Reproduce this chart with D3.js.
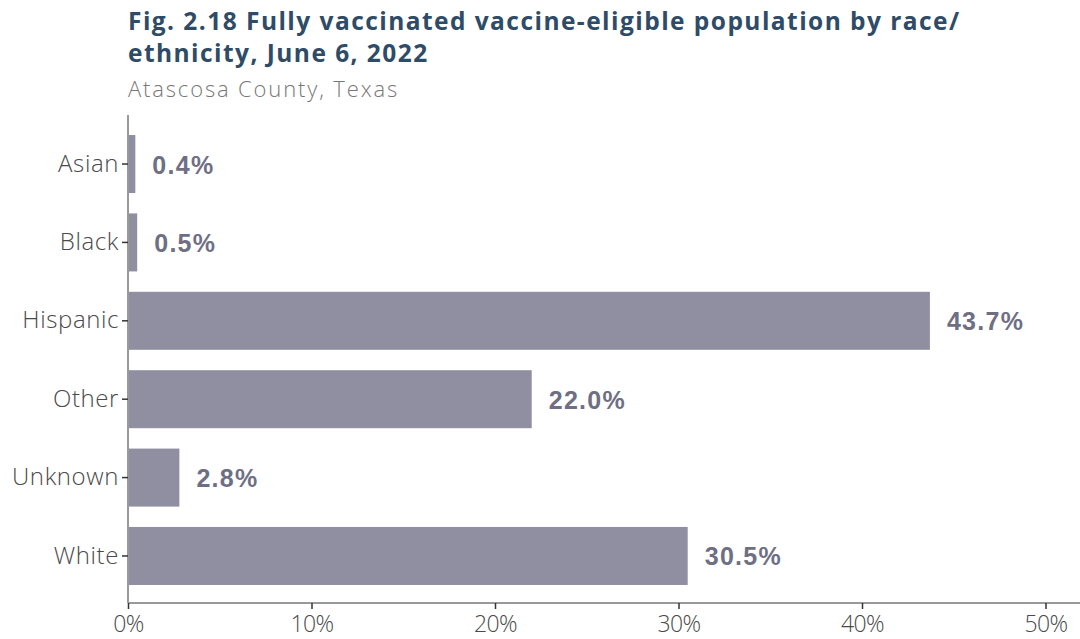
<!DOCTYPE html>
<html><head><meta charset="utf-8">
<script src="https://cdn.jsdelivr.net/npm/d3@7"></script>
<style>
html,body{margin:0;padding:0;background:#fff;}
svg{display:block;}
</style></head>
<body><svg id="chart" width="1080" height="639"></svg>
<script>
const categories = ["Asian","Black","Hispanic","Other","Unknown","White"];
const values = [0.4,0.5,43.7,22.0,2.8,30.5];
const tickValues = [0,10,20,30,40,50];
const titleLines = ["Fig. 2.18 Fully vaccinated vaccine-eligible population by race/","ethnicity, June 6, 2022"];
const subtitle = "Atascosa County, Texas";

(function(){
const svg = d3.select("#chart");
const mLeft = 128, mRight = 1080, mTop = 117, mBottom = 603;
const x = d3.scaleLinear().domain([0, 51.88]).range([mLeft, mRight]);
const y = d3.scaleBand().domain(categories).range([mTop, mBottom]).paddingInner(0.26).paddingOuter(0.23);

const sans = "'Open Sans', Lato, sans-serif";
svg.selectAll("text.title").data(titleLines).join("text")
  .attr("class","title").attr("x", 128).attr("y",(d,i)=>30+i*32)
  .attr("font-family", sans).attr("font-weight",700).attr("font-size",24.5)
  .attr("letter-spacing",1.45)
  .attr("fill","#2e4b67").text(d=>d);
svg.append("text").attr("x",128).attr("y",97)
  .attr("font-family", sans).attr("font-weight",300).attr("font-size",22).attr("letter-spacing",1.85)
  .attr("fill","#777").text(subtitle);

svg.selectAll("rect.bar").data(values).join("rect")
  .attr("class","bar")
  .attr("x", x(0)).attr("y",(d,i)=>y(categories[i]))
  .attr("width", d=>x(d)-x(0)).attr("height", y.bandwidth())
  .attr("fill","#8f8fa1");

svg.selectAll("text.val").data(values).join("text")
  .attr("class","val")
  .attr("x", d=>x(d)+17).attr("y",(d,i)=>y(categories[i])+y.bandwidth()/2)
  .attr("dy","0.38em")
  .attr("font-family","'Liberation Sans', Arial, sans-serif").attr("font-weight",700).attr("font-size",25)
  .attr("letter-spacing",1.3)
  .attr("fill","#6f6f84").text(d=>d.toFixed(1)+"%");

const yAxis = svg.append("g").attr("transform",`translate(${mLeft},0)`)
  .call(d3.axisLeft(y).tickSize(6).tickPadding(3));
yAxis.select(".domain").attr("stroke","#999").attr("stroke-width",2).attr("d",`M0,${mTop-2}V${mBottom}`);
yAxis.selectAll(".tick line").attr("stroke","#333").attr("stroke-width",1.5);
yAxis.selectAll(".tick text").attr("font-family",sans).attr("font-weight",300).attr("font-size",24)
  .attr("letter-spacing",0.6).attr("fill","#4a4a4a");

const xAxis = svg.append("g").attr("transform",`translate(0,${mBottom})`)
  .call(d3.axisBottom(x).tickValues(tickValues).tickFormat(d=>d+"%").tickSize(6).tickPadding(7));
xAxis.select(".domain").attr("stroke","#999").attr("stroke-width",2).attr("d",`M${mLeft},0H${mRight}`);
xAxis.selectAll(".tick line").attr("stroke","#333").attr("stroke-width",1.5);
xAxis.selectAll(".tick text").attr("font-family",sans).attr("font-weight",300).attr("font-size",23)
  .attr("letter-spacing",-0.6).attr("fill","#4a4a4a");
})();
</script></body></html>
